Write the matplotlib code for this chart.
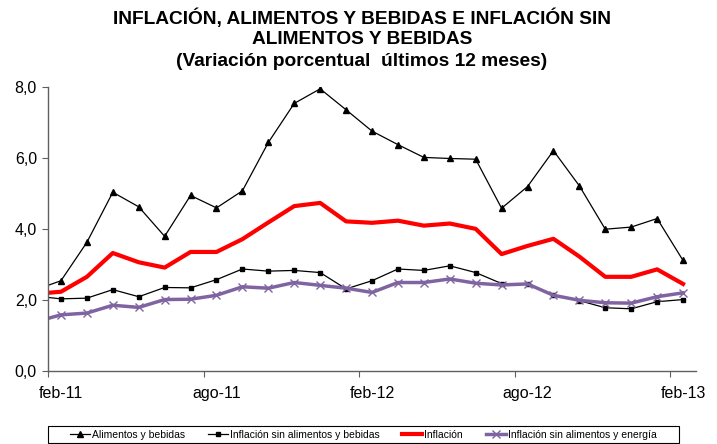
import numpy as np
import matplotlib
matplotlib.use("Agg")
import matplotlib.pyplot as plt
from matplotlib.patches import Rectangle

plt.rcParams['font.family'] = ['Liberation Sans', 'DejaVu Sans']

# first value is jan-11 (only its segment edge is visible), then feb-11 .. feb-13
months = ["ene-11", "feb-11", "mar-11", "abr-11", "may-11", "jun-11", "jul-11", "ago-11",
          "sep-11", "oct-11", "nov-11", "dic-11", "ene-12", "feb-12", "mar-12", "abr-12",
          "may-12", "jun-12", "jul-12", "ago-12", "sep-12", "oct-12", "nov-12", "dic-12",
          "ene-13", "feb-13"]

alimentos = [2.28, 2.54, 3.62, 5.03, 4.62, 3.79, 4.94, 4.59, 5.07, 6.43, 7.53, 7.94, 7.35,
             6.75, 6.37, 6.01, 5.98, 5.96, 4.58, 5.19, 6.20, 5.21, 3.99, 4.05, 4.29, 3.11]
sin_alim_beb = [2.11, 2.03, 2.05, 2.29, 2.09, 2.35, 2.34, 2.57, 2.87, 2.81, 2.83, 2.77, 2.31,
                2.54, 2.87, 2.83, 2.96, 2.77, 2.46, 2.46, 2.13, 1.98, 1.78, 1.75, 1.95, 2.01]
inflacion = [2.17, 2.23, 2.65, 3.32, 3.06, 2.91, 3.35, 3.35, 3.71, 4.18, 4.64, 4.73, 4.21,
             4.17, 4.23, 4.09, 4.15, 4.00, 3.29, 3.52, 3.72, 3.22, 2.65, 2.65, 2.86, 2.45]
sin_alim_energia = [1.38, 1.58, 1.63, 1.85, 1.79, 2.01, 2.02, 2.13, 2.37, 2.33, 2.49, 2.41, 2.33,
                    2.21, 2.49, 2.49, 2.59, 2.47, 2.42, 2.45, 2.13, 1.99, 1.92, 1.91, 2.09, 2.20]

tick_labels = ["feb-11", "ago-11", "feb-12", "ago-12", "feb-13"]

W, H = 717, 444
fig = plt.figure(figsize=(W / 100, H / 100), dpi=100)
ax = fig.add_axes([48 / W, (H - 371) / H, (696 - 48) / W, (371 - 86.7) / H])

x = np.arange(len(months)) - 1

ax.plot(x, alimentos, color='black', lw=0.9, marker='^', ms=5, label='Alimentos y bebidas')
ax.plot(x, sin_alim_beb, color='black', lw=0.9, marker='s', ms=3.5,
        label='Inflación sin alimentos y bebidas')
ax.plot(x, inflacion, color='#FF0000', lw=3, label='Inflación')
ax.plot(x, sin_alim_energia, color='#8064A2', lw=2.5, marker='x', ms=6, mew=1,
        label='Inflación sin alimentos y energía')

ax.set_xlim(-0.5, 24.5)
ax.set_ylim(0, 8)

ax.set_yticks([0, 2, 4, 6, 8])
ax.set_yticklabels(["0,0", "2,0", "4,0", "6,0", "8,0"], fontsize=11.5)

# tick marks between categories, labels centered on categories
ax.set_xticks(np.arange(-0.5, 24, 6))
ax.set_xticklabels([])
ax.set_xticks(np.arange(0, 25, 6), minor=True)
ax.set_xticklabels(tick_labels, minor=True, fontsize=11.5)
ax.tick_params(axis='x', which='minor', length=0, pad=11)
ax.tick_params(axis='x', which='major', length=4, color='#606060')
ax.tick_params(axis='y', length=4, color='#606060', pad=4)

for s in ['top', 'right']:
    ax.spines[s].set_visible(False)
for s in ['left', 'bottom']:
    ax.spines[s].set_color('#606060')
    ax.spines[s].set_linewidth(1)

title_lines = ["INFLACIÓN, ALIMENTOS Y BEBIDAS E INFLACIÓN SIN",
               "ALIMENTOS Y BEBIDAS",
               "(Variación porcentual  últimos 12 meses)"]
for i, line in enumerate(title_lines):
    fig.text(0.505, 1 - (18 + 22 * i) / H, line,
             ha='center', va='center', fontsize=13.8, fontweight='bold')

# legend frame drawn separately, wider than the entries
fig.patches.append(Rectangle((48 / W, 1 - 443 / H), (679 - 48) / W, 17 / H,
                             transform=fig.transFigure, fill=False,
                             edgecolor='black', lw=0.8))
leg = fig.legend(loc='center left', bbox_to_anchor=(70 / W, 1 - 434.5 / H),
                 ncol=4, fontsize=7.5, frameon=False, handlelength=1.9,
                 handletextpad=0.2, columnspacing=2.2, borderpad=0, borderaxespad=0)

fig.savefig("out.png", dpi=100)
